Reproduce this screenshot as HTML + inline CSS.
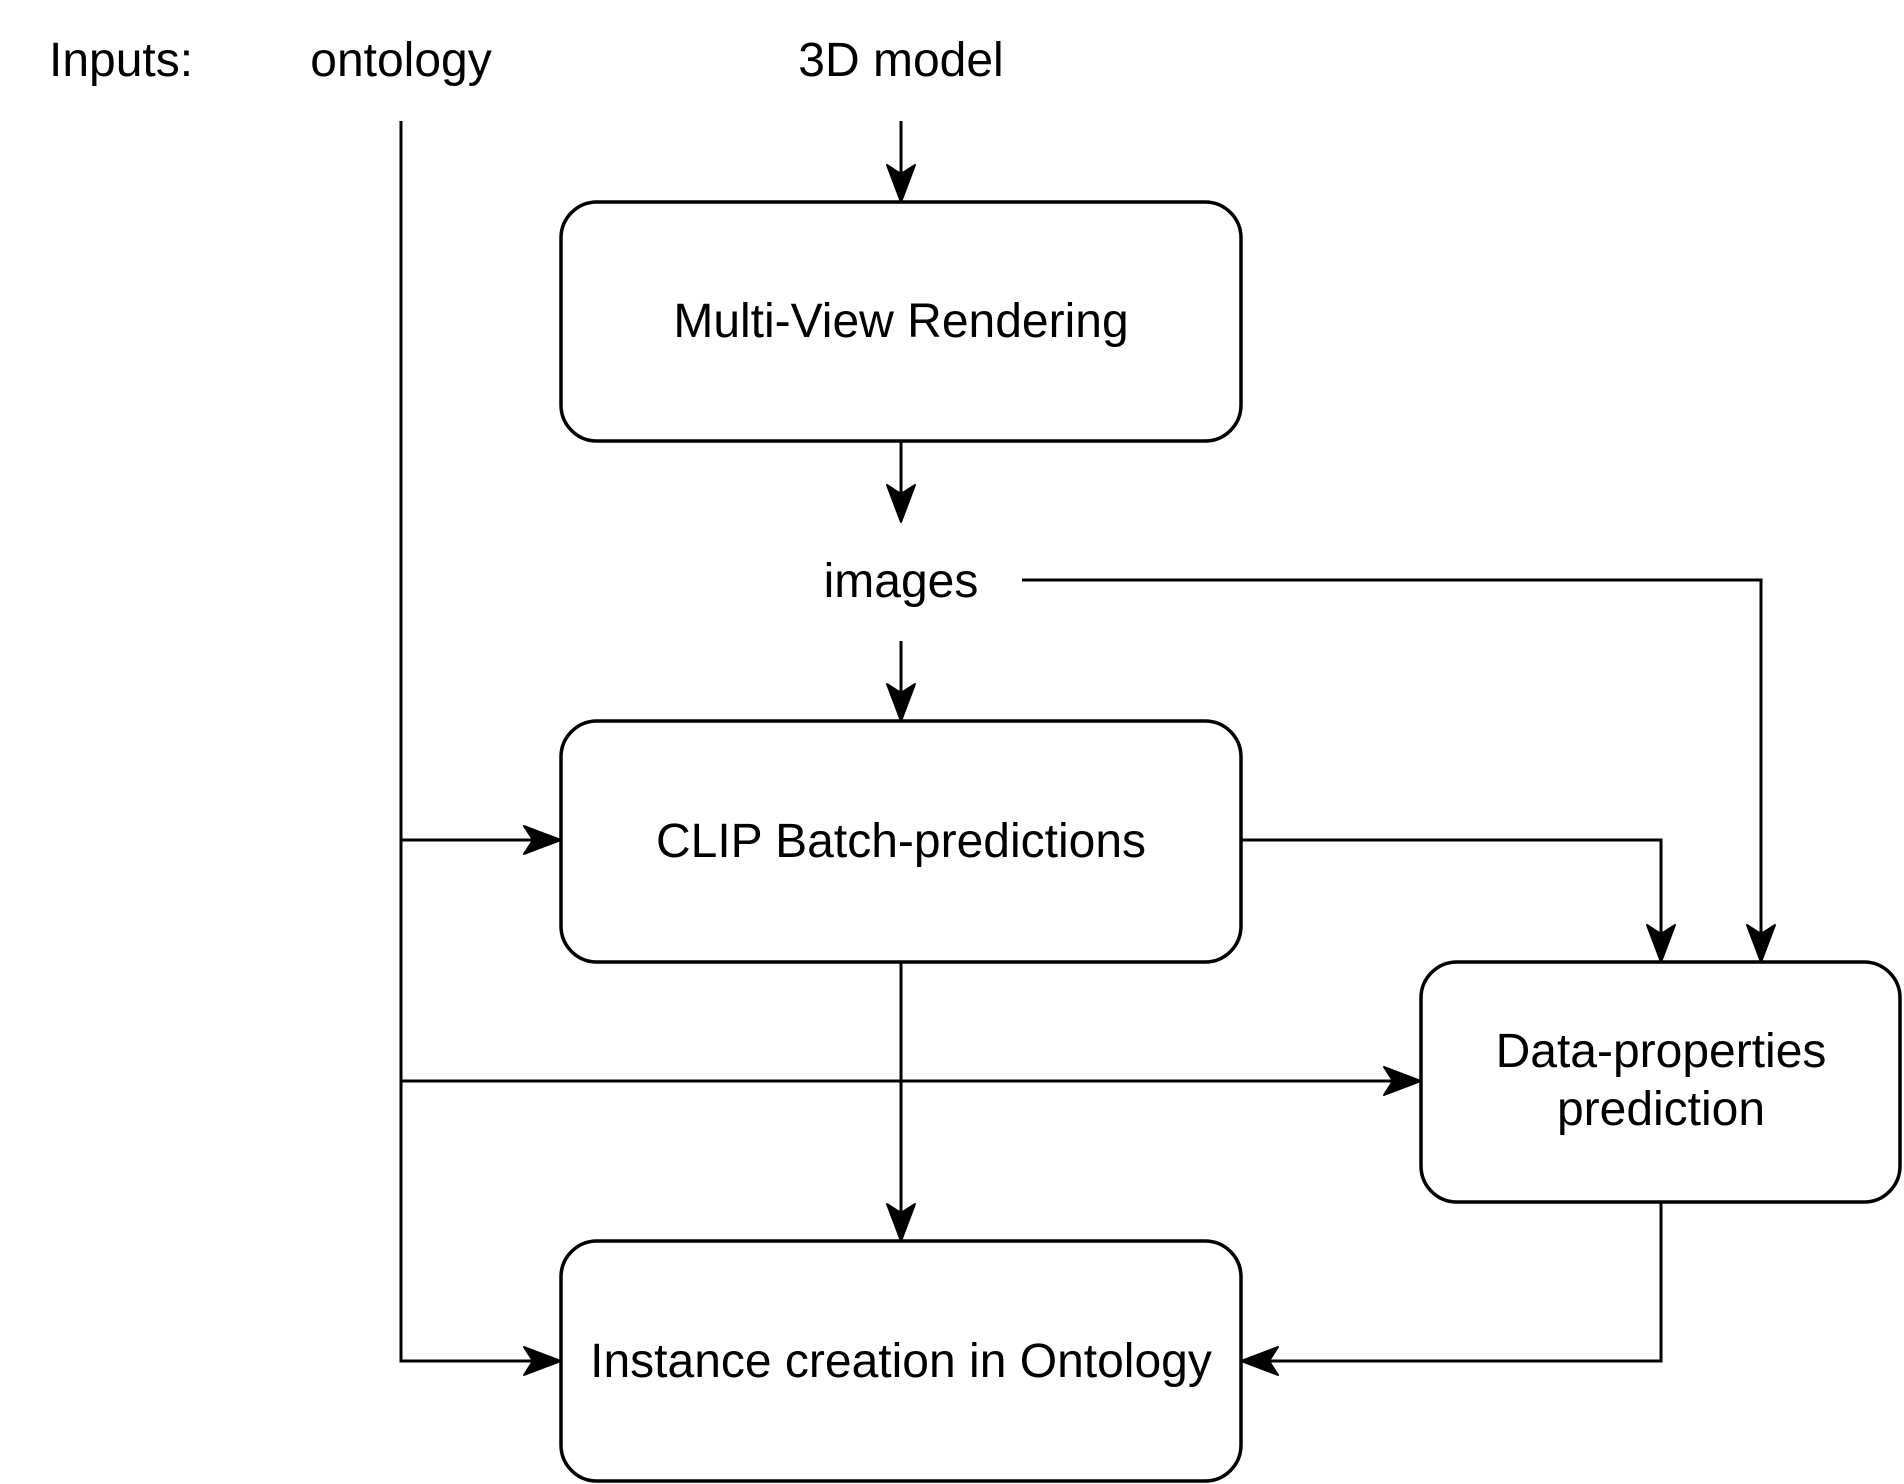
<!DOCTYPE html>
<html><head><meta charset="utf-8"><style>
html,body{margin:0;padding:0;background:#fff;}
svg{display:block;}
text{font-family:"Liberation Sans",Arial,sans-serif;font-size:48px;fill:#000;}
</style></head><body>
<svg width="1904" height="1484" viewBox="0 0 1904 1484" xmlns="http://www.w3.org/2000/svg">
<g fill="none" stroke="#000" stroke-width="3">
<rect x="561" y="202" width="680" height="239" rx="36" stroke-width="3.5"/>
<rect x="561" y="721" width="680" height="241" rx="36" stroke-width="3.5"/>
<rect x="561" y="1241" width="680" height="240" rx="36" stroke-width="3.5"/>
<rect x="1421" y="962" width="479" height="240" rx="36" stroke-width="3.5"/>
<path d="M401 121V1361H540"/>
<path d="M401 840H540"/>
<path d="M401 1081H1400"/>
<path d="M901 121V182"/>
<path d="M901 441V502"/>
<path d="M901 641V701"/>
<path d="M901 962V1221"/>
<path d="M1022 580H1761V942"/>
<path d="M1241 840H1661V942"/>
<path d="M1661 1202V1361H1262"/>
</g>
<g fill="#000" stroke="#000" stroke-width="2" stroke-linejoin="round">
<path d="M901 202L887 165L901 174L915 165Z"/>
<path d="M901 522L887 485L901 494L915 485Z"/>
<path d="M901 721L887 684L901 693L915 684Z"/>
<path d="M901 1241L887 1204L901 1213L915 1204Z"/>
<path d="M1761 962L1747 925L1761 934L1775 925Z"/>
<path d="M1661 962L1647 925L1661 934L1675 925Z"/>
<path d="M561 840L524 826L533 840L524 854Z"/>
<path d="M561 1361L524 1347L533 1361L524 1375Z"/>
<path d="M1421 1081L1384 1067L1393 1081L1384 1095Z"/>
<path d="M1241 1361L1278 1347L1269 1361L1278 1375Z"/>
</g>
<text x="49" y="76">Inputs:</text>
<text x="401" y="76" text-anchor="middle">ontology</text>
<text x="901" y="76" text-anchor="middle">3D model</text>
<text x="901" y="337" text-anchor="middle">Multi-View Rendering</text>
<text x="901" y="597" text-anchor="middle">images</text>
<text x="901" y="857" text-anchor="middle">CLIP Batch-predictions</text>
<text x="901" y="1377" text-anchor="middle">Instance creation in Ontology</text>
<text x="1661" y="1067" text-anchor="middle">Data-properties</text>
<text x="1661" y="1125" text-anchor="middle">prediction</text>
</svg>
</body></html>
